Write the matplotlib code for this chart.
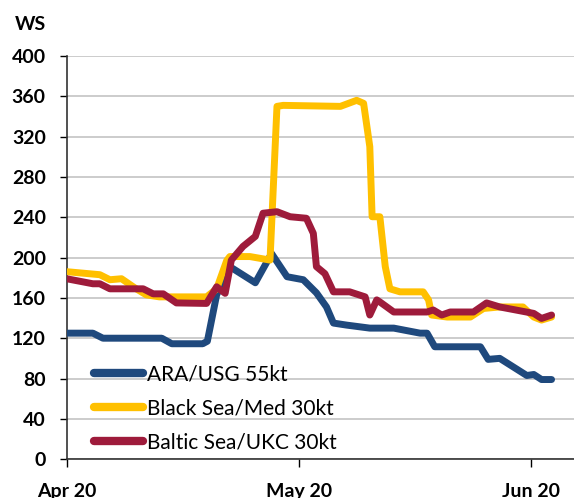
import matplotlib
matplotlib.use("Agg")
import matplotlib.pyplot as plt

# days counted from the start of the "Apr 20" tick
ara_days = [0, 3.4, 4.7, 12.3, 13.6, 17.6, 18.2, 19.4, 21.1, 24.4, 26.5, 28.5, 30.6, 32.3,
            33.6, 34.5, 36.2, 39.2, 42.3, 45.7, 46.6, 47.6, 53.5, 54.5, 56, 59.5, 60.4, 61.4, 62.7]
ara_ws = [125, 125, 120, 120, 114.5, 114.5, 117, 163, 191, 175, 204, 181, 178, 165,
          151, 135, 133, 130, 130, 125, 125, 111.5, 111.5, 99, 100, 83, 84, 79, 79]

bsm_days = [0, 4.3, 5.6, 7.1, 9, 10.3, 12, 18.1, 19.4, 20.7, 21.1, 23.7, 26.3, 27.2, 28,
            35.4, 37.5, 38.4, 39.2, 39.5, 40.5, 41.2, 41.8, 43.1, 46.1, 46.8, 47.2, 49.2,
            52.2, 53.9, 56, 59, 60.4, 61.4, 62.7]
bsm_ws = [186, 183, 178, 179, 169, 163, 161, 161, 169, 197, 201, 201, 197.5, 350, 351,
          350, 356, 353, 310, 240.5, 240.5, 191, 169, 166, 166, 158, 143, 141,
          141, 149.5, 151, 151, 141, 138, 141]

bal_days = [0, 3.4, 4.3, 5.6, 9.9, 11.2, 12.5, 14.2, 18.1, 19.4, 20.5, 21.3, 22.8, 24.4,
            25.4, 27.2, 28.9, 31, 31.9, 32.3, 33.4, 34.5, 36.6, 38.6, 39.2, 40.1, 40.5,
            42.3, 46.6, 47.4, 48.5, 49.6, 52.6, 54.3, 56, 60.4, 61.4, 62.7]
bal_ws = [179, 174, 174, 169, 169, 164, 164, 155, 154.5, 171, 164.5, 197.5, 211, 221,
          244, 245.5, 240.5, 239, 224, 191, 184, 166, 166, 161, 143, 158, 156,
          146, 146, 148, 143, 146, 146, 155, 151, 144.6, 139.6, 143]

tick_days = [0, 30, 60]
tick_labels = ["Apr 20", "May 20", "Jun 20"]
y_ticks = list(range(0, 401, 40))

plt.rcParams["font.family"] = ["Lato", "DejaVu Sans"]

fig = plt.figure(figsize=(5.74, 4.98), dpi=100)
ax = fig.add_axes([0.116, 0.078, 0.884, 0.8096])

ax.plot(ara_days, ara_ws, color="#1F497D", lw=5, solid_capstyle="round",
        solid_joinstyle="round", label="ARA/USG 55kt", zorder=3)
ax.plot(bsm_days, bsm_ws, color="#FFC000", lw=5, solid_capstyle="round",
        solid_joinstyle="round", label="Black Sea/Med 30kt", zorder=3)
ax.plot(bal_days, bal_ws, color="#9E1B3B", lw=5, solid_capstyle="round",
        solid_joinstyle="round", label="Baltic Sea/UKC 30kt", zorder=4)

ax.set_xlim(0, 65.6)
ax.set_ylim(0, 400)
ax.set_yticks(y_ticks)
ax.set_xticks(tick_days)
ax.set_xticklabels(tick_labels)
ax.grid(axis="y", color="#c8c8c8", lw=1.3)
ax.set_axisbelow(True)

for s in ["top", "right"]:
    ax.spines[s].set_visible(False)
ax.spines["left"].set_color("#333333")
ax.spines["bottom"].set_color("#333333")
ax.spines["left"].set_linewidth(1.2)
ax.spines["bottom"].set_linewidth(1.2)

ax.tick_params(axis="y", length=5, width=1, pad=10, labelsize=14)
ax.tick_params(axis="x", length=6, width=1, pad=11, labelsize=14)
for lab in ax.get_xticklabels() + ax.get_yticklabels():
    lab.set_fontweight("bold")

fig.text(0.025, 0.94, "WS", fontsize=14, fontweight="bold")

leg = ax.legend(loc="lower left", bbox_to_anchor=(0.018, -0.03), frameon=False,
                fontsize=15, handlelength=2.35, handletextpad=0.15, labelspacing=0.68)
for line in leg.get_lines():
    line.set_linewidth(6)

fig.savefig("out.png", dpi=100)
